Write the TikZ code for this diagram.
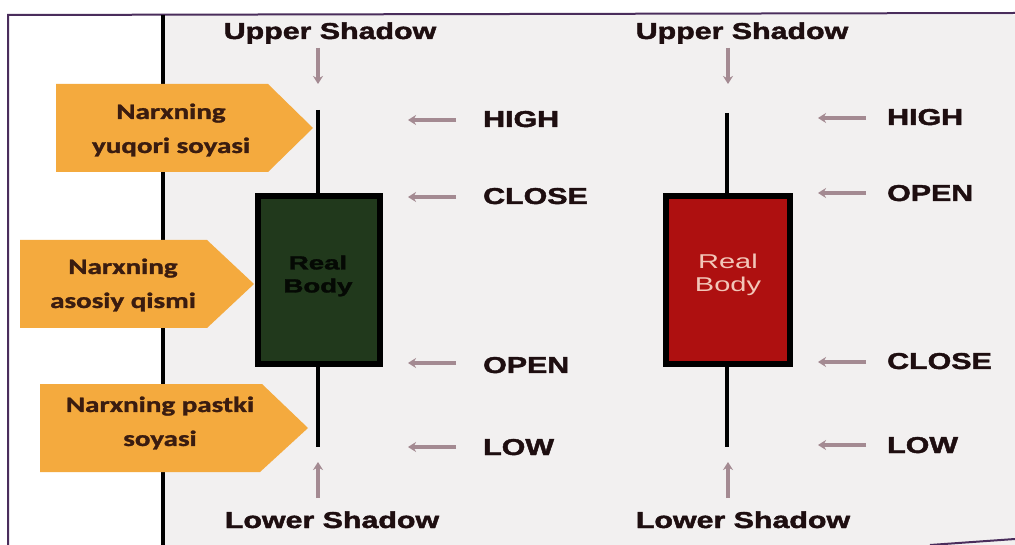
\documentclass[tikz,border=0pt]{standalone}
\usepackage{fontspec}
\setmainfont{Liberation Sans}
\newfontfamily\carl{Carlito}[FakeBold=1.2]
\newfontfamily\heavy{Liberation Sans Bold}[FakeBold=1.6]
\usetikzlibrary{arrows.meta}
\definecolor{bgray}{HTML}{F2F0F0}
\definecolor{frame}{HTML}{4A2D5C}
\definecolor{orng}{HTML}{F4AA3E}
\definecolor{brwn}{HTML}{3A1C10}
\definecolor{gbody}{HTML}{21391C}
\definecolor{rbody}{HTML}{AE1010}
\definecolor{pinktxt}{HTML}{F2C6B8}
\definecolor{mauve}{HTML}{A48A92}
\definecolor{lbl}{HTML}{1E0E10}
\newcommand\xs[1]{\scalebox{1.32}[1]{#1}}
\newcommand\xr[1]{\scalebox{1.45}[1]{#1}}
\tikzset{
  lab/.style={font=\heavy\fontsize{23}{26}\selectfont, text=lbl, inner sep=0pt, anchor=base},
  labl/.style={lab, anchor=base west},
  otext/.style={font=\carl\bfseries\fontsize{22}{34}\selectfont, text=brwn, align=center, inner sep=0pt},
  obox/.style={fill=orng},
  sarrow/.style={draw=mauve, line width=4pt, -{Stealth[length=8pt,width=10pt]}},
  wick/.style={draw=black, line width=4pt},
  candle/.style={draw=black, line width=6pt},
}
\begin{document}
\begin{tikzpicture}[x=1pt,y=-1pt]
\useasboundingbox (0,0) rectangle (1015,545);
\fill[white] (0,0) rectangle (1015,545);
\fill[bgray] (165,15) rectangle (1015,545);
% frame
\draw[frame, line width=2pt] (8,545) -- (8,15) -- (1015,13);
\draw[frame, line width=2pt] (930,545) -- (1015,539);
% black vertical line
\draw[black, line width=4pt] (163,15) -- (163,545);
% orange pointer boxes
\fill[obox] (56,84) -- (268,84) -- (313,128) -- (268,172) -- (56,172) -- cycle;
\fill[obox] (20,240) -- (207,240) -- (254,284) -- (207,328) -- (20,328) -- cycle;
\fill[obox] (40,384) -- (262,384) -- (308,428) -- (260,472) -- (40,472) -- cycle;
\node[otext] (t1) at (171,130) {\xs{Narxning}\\\xs{yuqori soyasi}};
\node[otext] (t2) at (123,285) {\xs{Narxning}\\\xs{asosiy qismi}};
\node[otext] (t3) at (160,423) {\xs{Narxning pastki}\\\xs{soyasi}};
% green candle
\coordinate (gtop) at (318,110);
\coordinate (gbot) at (318,447);
\draw[wick] (gtop) -- (gbot);
\filldraw[candle, fill=gbody] (258,196) rectangle (380,364);
\node[font=\heavy\fontsize{19}{23}\selectfont, text=black!85!gbody, align=center, inner sep=0pt] (gtxt) at (318,276) {\xr{Real}\\\xr{Body}};
% red candle
\coordinate (rtop) at (727,113);
\coordinate (rbot) at (727,447);
\draw[wick] (rtop) -- (rbot);
\filldraw[candle, fill=rbody] (666,196) rectangle (790,364);
\node[font=\fontsize{20}{23}\selectfont, text=pinktxt, align=center, inner sep=0pt] (rtxt) at (728,275) {\xr{Real}\\\xr{Body}};
% top / bottom titles
\node[lab] (us1) at (330,39) {\xs{Upper Shadow}};
\node[lab] (us2) at (742,39) {\xs{Upper Shadow}};
\node[lab] (ls1) at (332,528) {\xs{Lower Shadow}};
\node[lab] (ls2) at (743,528) {\xs{Lower Shadow}};
% vertical arrows
\coordinate (ua1s) at (318,48); \coordinate (ua1e) at (318,84);
\coordinate (ua2s) at (728,48); \coordinate (ua2e) at (728,84);
\coordinate (la1s) at (318,498); \coordinate (la1e) at (318,462);
\coordinate (la2s) at (728,498); \coordinate (la2e) at (728,462);
\draw[sarrow] (ua1s) -- (ua1e);
\draw[sarrow] (ua2s) -- (ua2e);
\draw[sarrow] (la1s) -- (la1e);
\draw[sarrow] (la2s) -- (la2e);
% left labels
\node[labl] (h1) at (483,127) {\xs{HIGH}};
\node[labl] (c1) at (483,204) {\xs{CLOSE}};
\node[labl] (o1) at (483,373) {\xs{OPEN}};
\node[labl] (l1) at (483,455) {\xs{LOW}};
% right labels
\node[labl] (h2) at (887,125) {\xs{HIGH}};
\node[labl] (o2) at (887,201) {\xs{OPEN}};
\node[labl] (c2) at (887,369) {\xs{CLOSE}};
\node[labl] (l2) at (887,453) {\xs{LOW}};
% horizontal arrows
\foreach \n/\y in {h1/120,c1/197,o1/363,l1/447}{
  \coordinate (\n s) at (456,\y); \coordinate (\n e) at (408,\y);
  \draw[sarrow] (\n s) -- (\n e);
}
\foreach \n/\y in {h2/118,o2/193,c2/362,l2/445}{
  \coordinate (\n s) at (866,\y); \coordinate (\n e) at (818,\y);
  \draw[sarrow] (\n s) -- (\n e);
}
\end{tikzpicture}
\end{document}
